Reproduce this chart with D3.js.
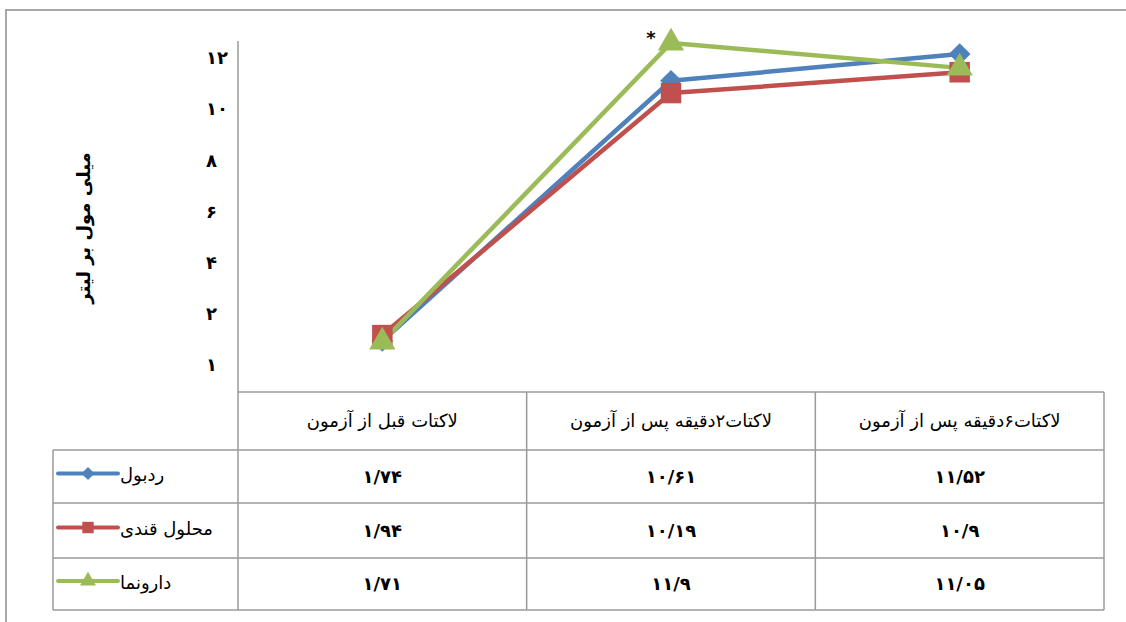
<!DOCTYPE html>
<html>
<head>
<meta charset="utf-8">
<script src="https://cdn.jsdelivr.net/npm/d3@7"></script>
<style>
  html, body { margin: 0; padding: 0; background: #fff; }
  svg { display: block; }
</style>
</head>
<body>
<svg id="chart" width="1126" height="622"></svg>
<script>
// ---- data ----
const categories = ["لاکتات قبل از آزمون", "لاکتات۲دقیقه پس از آزمون", "لاکتات۶دقیقه پس از آزمون"];
const seriesNames = ["ردبول", "محلول قندی", "دارونما"];
const redBull = [1.74, 10.61, 11.52];
const sugarSolution = [1.94, 10.19, 10.9];
const placebo = [1.71, 11.9, 11.05];
const tableLabels = [
  ["۱/۷۴", "۱۰/۶۱", "۱۱/۵۲"],
  ["۱/۹۴", "۱۰/۱۹", "۱۰/۹"],
  ["۱/۷۱", "۱۱/۹", "۱۱/۰۵"]
];
const yTickLabels = ["۱۲", "۱۰", "۸", "۶", "۴", "۲", "۱"];
const yTitle = "میلی مول بر لیتر";
const yDomain = [0, 12];

// ---- styles ----
const colors = ["#4F81BD", "#C0504D", "#9BBB59"];
const symbols = [d3.symbolDiamond2, d3.symbolSquare, d3.symbolTriangle];
const seriesValues = [redBull, sugarSolution, placebo];
const FONT = "'DejaVu Sans', sans-serif";
const gridColor = "#9a9a9a";

const svg = d3.select("#chart");

// layout
const plotLeft = 238, plotRight = 1104, plotTop = 40, plotBottom = 392;
const legendLeft = 53;
const rowEdges = [392, 450, 503, 558, 610];

const x = d3.scaleBand().domain(categories).range([plotLeft, plotRight]);
const y = d3.scaleLinear().domain(yDomain).range([plotBottom, plotTop]);
const yLab = d3.scalePoint().domain(yTickLabels).range([58, 365]);

// outer border
svg.append("rect").attr("x", 6).attr("y", 10).attr("width", 1140).attr("height", 640)
  .attr("fill", "none").attr("stroke", "#a8a8a8").attr("stroke-width", 2);

// y axis line
svg.append("line").attr("x1", plotLeft).attr("x2", plotLeft).attr("y1", 41).attr("y2", plotBottom)
  .attr("stroke", gridColor).attr("stroke-width", 1.5);

// y tick labels
svg.append("g").selectAll("text").data(yTickLabels).join("text")
  .attr("x", 206).attr("y", d => yLab(d)).attr("dy", "0.35em")
  .attr("text-anchor", "start")
  .attr("font-family", FONT).attr("font-weight", "bold").attr("font-size", 18)
  .attr("fill", "#000").text(d => d);

// y title
svg.append("text")
  .attr("transform", "translate(84,228) rotate(-90)")
  .attr("text-anchor", "middle").attr("dy", "0.35em")
  .attr("font-family", FONT).attr("font-weight", "bold").attr("font-size", 18)
  .attr("fill", "#000").text(yTitle);

// ---- table grid ----
const tg = svg.append("g").attr("stroke", gridColor).attr("stroke-width", 1.5).attr("fill", "none");
tg.append("line").attr("x1", plotLeft).attr("x2", plotRight).attr("y1", rowEdges[0]).attr("y2", rowEdges[0]);
rowEdges.slice(1).forEach(ry => {
  tg.append("line").attr("x1", legendLeft).attr("x2", plotRight).attr("y1", ry).attr("y2", ry);
});
tg.append("line").attr("x1", legendLeft).attr("x2", legendLeft).attr("y1", rowEdges[1]).attr("y2", rowEdges[4]);
tg.append("line").attr("x1", plotLeft).attr("x2", plotLeft).attr("y1", rowEdges[0]).attr("y2", rowEdges[4]);
categories.forEach(c => {
  const xr = x(c) + x.bandwidth();
  tg.append("line").attr("x1", xr).attr("x2", xr).attr("y1", rowEdges[0]).attr("y2", rowEdges[4]);
});

// header texts
svg.append("g").selectAll("text").data(categories).join("text")
  .attr("x", d => x(d) + x.bandwidth() / 2).attr("y", (rowEdges[0] + rowEdges[1]) / 2)
  .attr("dy", "0.35em").attr("text-anchor", "middle")
  .attr("font-family", FONT).attr("font-size", 18).attr("fill", "#000")
  .text(d => d);

// values
tableLabels.forEach((row, i) => {
  const cy = (rowEdges[i + 1] + rowEdges[i + 2]) / 2;
  svg.append("g").selectAll("text").data(row).join("text")
    .attr("x", (d, j) => x(categories[j]) + x.bandwidth() / 2).attr("y", cy)
    .attr("dy", "0.35em").attr("text-anchor", "middle")
    .attr("font-family", FONT).attr("font-weight", "bold").attr("font-size", 18).attr("fill", "#000")
    .text(d => d);
});

// legend column
seriesNames.forEach((name, i) => {
  const cy = (rowEdges[i + 1] + rowEdges[i + 2]) / 2 - 3;
  const g = svg.append("g");
  g.append("line").attr("x1", 58).attr("x2", 118).attr("y1", cy).attr("y2", cy)
    .attr("stroke", colors[i]).attr("stroke-width", 4).attr("stroke-linecap", "round");
  g.append("path").attr("transform", `translate(88,${cy})`)
    .attr("d", d3.symbol().type(symbols[i]).size(i === 1 ? 130 : 110)())
    .attr("fill", colors[i]);
  g.append("text").attr("x", 120).attr("y", cy + 4).attr("dy", "0.2em")
    .attr("text-anchor", "start")
    .attr("font-family", FONT).attr("font-size", 18).attr("fill", "#000")
    .text(name);
});

// ---- lines & markers ----
const line = d3.line().x((d, j) => x(categories[j]) + x.bandwidth() / 2).y(d => y(d));
seriesValues.forEach((vals, i) => {
  svg.append("path").datum(vals).attr("d", line)
    .attr("fill", "none").attr("stroke", colors[i]).attr("stroke-width", 4.5)
    .attr("stroke-linejoin", "round");
});
seriesValues.forEach((vals, i) => {
  svg.append("g").selectAll("path").data(vals).join("path")
    .attr("transform", (d, j) => `translate(${x(categories[j]) + x.bandwidth() / 2},${y(d)})`)
    .attr("d", d3.symbol().type(symbols[i]).size(i === 1 ? 420 : 300)())
    .attr("fill", colors[i]);
});

// asterisk
svg.append("text").attr("x", 651).attr("y", 31).attr("dy", "0.7em")
  .attr("text-anchor", "middle").attr("font-family", FONT).attr("font-size", 18)
  .attr("font-weight", "bold").attr("fill", "#000").text("*");
</script>
</body>
</html>
